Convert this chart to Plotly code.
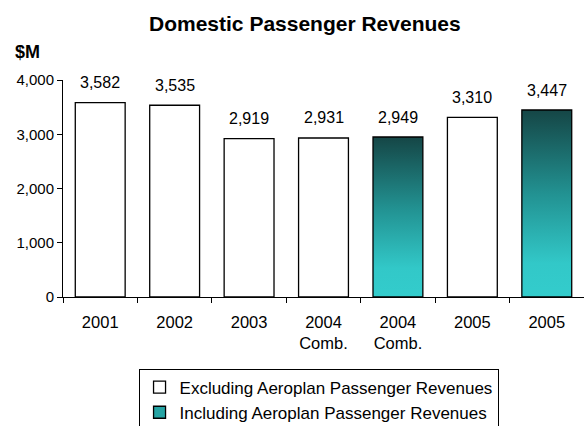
import plotly.graph_objects as go

# Domestic passenger revenues, $M
categories = ["2001", "2002", "2003", "2004<br>Comb.", "2004<br>Comb.", "2005", "2005"]
excl_idx = [0, 1, 2, 3, 5]
excl_values = [3582, 3535, 2919, 2931, 3310]
incl_idx = [4, 6]
incl_values = [2949, 3447]
y_ticks = [0, 1000, 2000, 3000, 4000]

BAR_W = 0.67
FONT = "Liberation Sans, Arial, sans-serif"
GRAD = [[0.0, "#33cccc"], [0.18, "#32c8c8"], [0.55, "#229292"], [1.0, "#154646"]]

fig = go.Figure()

fig.add_trace(go.Bar(
    x=excl_idx, y=excl_values, width=BAR_W,
    marker=dict(color="white", line=dict(color="black", width=1.3)),
    name="Excluding Aeroplan Passenger Revenues",
))

# Legend swatch for the gradient series
fig.add_trace(go.Bar(
    x=[None], y=[None],
    marker=dict(color="#26a4a4", line=dict(color="black", width=1.3)),
    name="Including Aeroplan Passenger Revenues",
    legendgroup="incl", hoverinfo="skip",
))

# Gradient-filled bars drawn as filled rectangles on the same axes
for i, v in zip(incl_idx, incl_values):
    h = BAR_W / 2
    fig.add_trace(go.Scatter(
        x=[i - h, i - h, i + h, i + h, i - h],
        y=[0, v, v, 0, 0],
        mode="lines", fill="toself",
        line=dict(color="black", width=1.3),
        fillgradient=dict(type="vertical", colorscale=GRAD, start=0, stop=v),
        name="Including Aeroplan Passenger Revenues",
        legendgroup="incl", showlegend=False, hoverinfo="skip",
    ))

# Value labels above each bar
for i, v in list(zip(excl_idx, excl_values)) + list(zip(incl_idx, incl_values)):
    fig.add_annotation(x=i, y=v, text=f"{v:,}", showarrow=False,
                       yanchor="middle", yshift=20,
                       font=dict(family=FONT, size=16, color="black"))

fig.add_annotation(xref="paper", yref="paper", x=-0.096, y=1.129,
                   xanchor="left", yanchor="middle", text="<b>$M</b>",
                   showarrow=False, font=dict(family=FONT, size=18, color="black"))

fig.update_layout(
    width=584, height=426,
    margin=dict(l=63, r=0, t=80, b=129, autoexpand=False),
    paper_bgcolor="white", plot_bgcolor="white",
    font=dict(family=FONT, color="black"),
    title=dict(text="<b>Domestic Passenger Revenues</b>", x=0.522, xref="container",
               y=0.944, yref="container", xanchor="center", yanchor="middle",
               font=dict(family=FONT, size=21, color="black")),
    showlegend=True,
    legend=dict(x=0.145, y=-0.33, xanchor="left", yanchor="top",
                bordercolor="black", borderwidth=1, bgcolor="white",
                font=dict(family=FONT, size=17, color="black"),
                traceorder="normal", itemwidth=30, tracegroupgap=0),
    xaxis=dict(range=[-0.5, 6.5], tickmode="array",
               tickvals=list(range(len(categories))), ticktext=categories,
               ticks="", showline=True, linecolor="black", linewidth=1,
               showgrid=False, zeroline=False, fixedrange=True,
               ticklabelstandoff=10,
               tickfont=dict(family=FONT, size=16.5, color="black"),
               minor=dict(tickmode="linear", tick0=-0.5, dtick=1, ticks="outside",
                          ticklen=5, tickcolor="black", tickwidth=1, showgrid=False)),
    yaxis=dict(range=[0, 4000], tickmode="array", tickvals=y_ticks,
               tickformat=",", ticks="outside", ticklen=5, tickcolor="black",
               showline=True, linecolor="black", linewidth=1,
               showgrid=False, zeroline=False,
               tickfont=dict(family=FONT, size=15, color="black")),
    bargap=0.33,
)

fig.write_html("out.html")
